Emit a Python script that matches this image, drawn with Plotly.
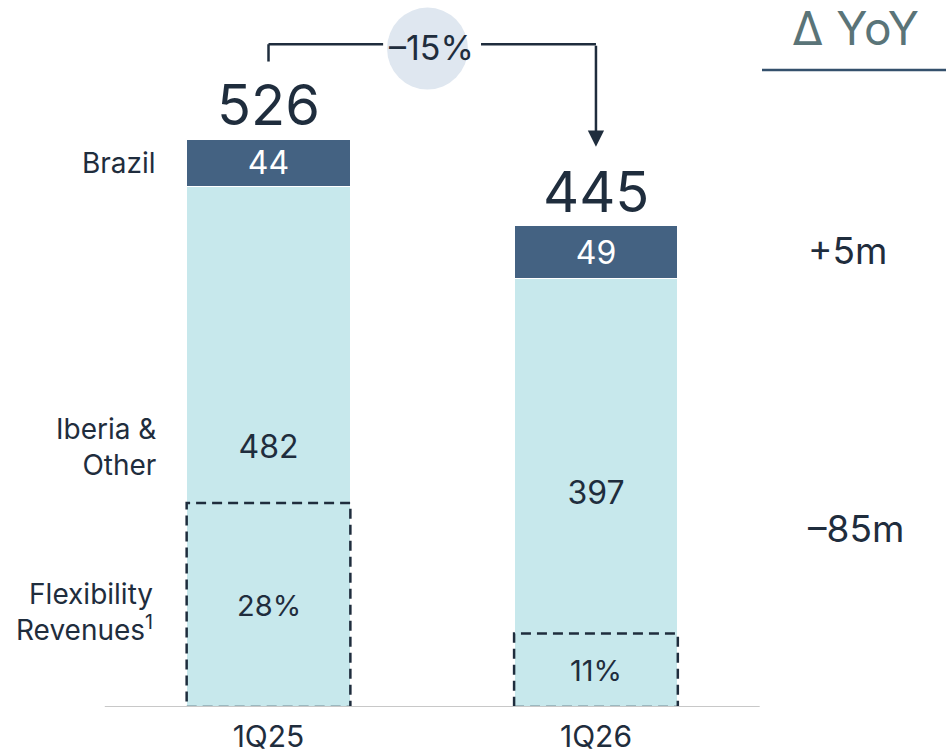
import plotly.graph_objects as go

# Data (EUR m)
quarters = ["1Q25", "1Q26"]
iberia_other = [482, 397]
brazil = [44, 49]
totals = [526, 445]
flex_share = ["28%", "11%"]
flex_block = [189, 68]  # height of the dashed flexibility block
yoy_labels = ["+5m", "–85m"]
change_label = "–15%"

DARK = "#1f2d3d"
BRAZIL_C = "#446282"
IBERIA_C = "#c7e8ec"
FONT = "Inter"

fig = go.Figure()

fig.add_trace(go.Bar(
    x=quarters, y=iberia_other, name="Iberia & Other",
    marker=dict(color=IBERIA_C, line=dict(color="white", width=1)),
    text=[str(v) for v in iberia_other], textposition="inside",
    insidetextanchor="middle",
    textfont=dict(family=FONT, size=32, color=DARK),
    width=0.5,
))
fig.add_trace(go.Bar(
    x=quarters, y=brazil, name="Brazil",
    marker=dict(color=BRAZIL_C, line=dict(color="white", width=1.5)),
    text=[str(v) for v in brazil], textposition="inside",
    insidetextanchor="middle",
    textfont=dict(family=FONT, size=32, color="white"),
    width=0.5,
))

shapes = []
annotations = []

# dashed flexibility blocks
for i, h in enumerate(flex_block):
    shapes.append(dict(type="rect", xref="x", yref="y",
                       x0=i - 0.25, x1=i + 0.25, y0=0, y1=h,
                       line=dict(color=DARK, width=2.5, dash="10px,6px"),
                       fillcolor="rgba(0,0,0,0)", layer="above"))
    annotations.append(dict(x=i, y=h / 2, xref="x", yref="y", text=flex_share[i],
                            showarrow=False, font=dict(family=FONT, size=29, color=DARK)))

# totals above bars
for i, t in enumerate(totals):
    annotations.append(dict(x=i, y=t + 32, xref="x", yref="y", text=str(t),
                            showarrow=False, font=dict(family=FONT, size=56, color=DARK)))

# baseline
shapes.append(dict(type="line", xref="x", yref="y", x0=-0.5, x1=1.50, y0=0, y1=0,
                   line=dict(color="#c8c8c8", width=2), layer="above"))

# connector between totals
y_top = totals[0] + 88
shapes += [
    dict(type="line", xref="x", yref="y", x0=0, x1=0, y0=totals[0] + 72, y1=y_top,
         line=dict(color=DARK, width=2.5)),
    dict(type="line", xref="x", yref="y", x0=0, x1=0.35, y0=y_top, y1=y_top,
         line=dict(color=DARK, width=2.5)),
    dict(type="line", xref="x", yref="y", x0=0.649, x1=1, y0=y_top, y1=y_top,
         line=dict(color=DARK, width=2.5)),
    dict(type="circle", xref="x", yref="y", x0=0.362, x1=0.609, y0=572, y1=648,
         fillcolor="#dfe7f0", line=dict(width=0)),
]
annotations.append(dict(x=1, y=totals[1] + 74, xref="x", yref="y",
                        ax=1, ay=y_top, axref="x", ayref="y", text="",
                        showarrow=True, arrowhead=2, arrowsize=1.3, arrowwidth=2.5,
                        arrowcolor=DARK, standoff=0))
annotations.append(dict(x=0.498, y=y_top - 3, xref="x", yref="y", text=change_label,
                        showarrow=False, font=dict(family=FONT, size=34, color=DARK)))

# segment labels on the left
left_labels = [("Brazil", 504, -0.3375), ("Iberia &<br>Other", 241, -0.3375),
               ("Flexibility<br>Revenues<sup>1</sup>", 88, -0.347)]
for txt, yv, xv in left_labels:
    annotations.append(dict(x=xv, y=yv, xref="x", yref="y", text=txt, xanchor="right",
                            yanchor="middle", align="right", showarrow=False,
                            font=dict(family=FONT, size=28, color=DARK)))

# delta YoY column
annotations.append(dict(x=855 / 946, y=(707 - 28) / 707, xref="paper", yref="paper",
                        text="Δ YoY", showarrow=False, xanchor="center", yanchor="middle",
                        font=dict(family=FONT, size=46, color="#5a7478")))
shapes.append(dict(type="line", xref="paper", yref="paper", x0=762 / 946, x1=1,
                   y0=(707 - 70) / 707, y1=(707 - 70) / 707,
                   line=dict(color="#34506c", width=2.5)))
for lbl, ypx in zip(yoy_labels, [250, 528]):
    annotations.append(dict(x=806 / 946, y=(707 - ypx) / 707, xref="paper", yref="paper",
                            text=lbl, xanchor="left", yanchor="middle", showarrow=False,
                            font=dict(family=FONT, size=37, color=DARK)))

fig.update_layout(
    barmode="stack",
    width=946, height=756,
    margin=dict(l=0, r=0, t=0, b=49),
    paper_bgcolor="white", plot_bgcolor="white",
    showlegend=False,
    shapes=shapes, annotations=annotations,
    xaxis=dict(range=[-0.82, 2.069], showgrid=False, zeroline=False, showline=False,
               automargin=False,
               tickfont=dict(family=FONT, size=30, color=DARK),
               ticks="outside", ticklen=3, tickcolor="rgba(0,0,0,0)"),
    yaxis=dict(range=[0, 655], visible=False, automargin=False),
)

fig.write_html("out.html", config={"displayModeBar": False},
               post_script="document.body.style.margin='0';")
